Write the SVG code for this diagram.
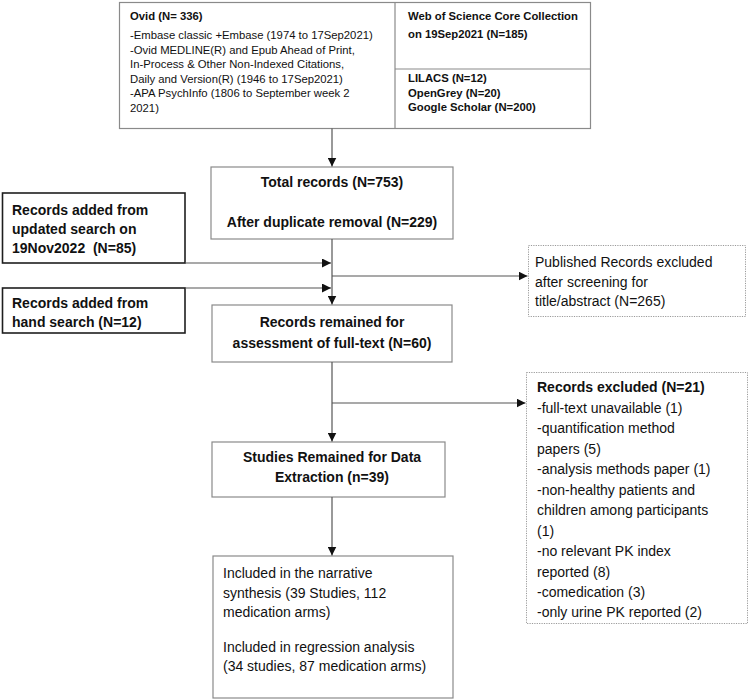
<svg xmlns="http://www.w3.org/2000/svg" width="750" height="700" viewBox="0 0 750 700">
<defs>
<style>
.box{fill:#fff;stroke:#8a8a8a;stroke-width:1.2}
.dark{fill:#fff;stroke:#1e1e1e;stroke-width:1.6}
.dot{fill:#fff;stroke:#9a9a9a;stroke-width:1;stroke-dasharray:1.2 1.2}
.conn{fill:none;stroke:#555;stroke-width:1.2}
text{font-family:"Liberation Sans",Arial,sans-serif;fill:#111}
.s{font-size:11.3px}
.sb{font-size:11.3px;font-weight:bold}
.r{font-size:14px}
.b{font-size:14px;font-weight:bold}
.c{text-anchor:middle}
.pre{white-space:pre}
</style>
<marker id="ah" viewBox="0 0 10 10" refX="10" refY="5" markerWidth="9" markerHeight="9" markerUnits="userSpaceOnUse" orient="auto">
<path d="M0,0 L10,5 L0,10 z" fill="#111"/>
</marker>
</defs>
<rect width="750" height="700" fill="#fff"/>

<g id="sources">
<rect class="box" x="119.5" y="2.5" width="471" height="126"/>
<line x1="395" y1="2.5" x2="395" y2="128.5" stroke="#8a8a8a" stroke-width="1.2"/>
<line x1="395" y1="69" x2="590.5" y2="69" stroke="#8a8a8a" stroke-width="1.2"/>
<text class="sb" x="130" y="20">Ovid (N= 336)</text>
<text class="s" x="130" y="39">-Embase classic +Embase (1974 to 17Sep2021)</text>
<text class="s" x="130" y="54">-Ovid MEDLINE(R) and Epub Ahead of Print,</text>
<text class="s" x="130" y="68">In-Process &amp; Other Non-Indexed Citations,</text>
<text class="s" x="130" y="83">Daily and Version(R) (1946 to 17Sep2021)</text>
<text class="s" x="130" y="97">-APA PsychInfo (1806 to September week 2</text>
<text class="s" x="130" y="112">2021)</text>
<text class="sb" x="408" y="20">Web of Science Core Collection</text>
<text class="sb" x="408" y="38">on 19Sep2021 (N=185)</text>
<text class="sb" x="408" y="82">LILACS (N=12)</text>
<text class="sb" x="408" y="97">OpenGrey (N=20)</text>
<text class="sb" x="408" y="111">Google Scholar (N=200)</text>
</g>

<g id="total">
<rect class="box" x="211" y="167" width="242" height="72"/>
<text class="b c" x="332" y="187">Total records (N=753)</text>
<text class="b c" x="332" y="227">After duplicate removal (N=229)</text>
</g>

<g id="updated">
<rect class="dark" x="2.5" y="193" width="182.5" height="70"/>
<text class="b" x="12" y="215">Records added from</text>
<text class="b" x="12" y="234">updated search on</text>
<text class="b pre" x="12" y="253" xml:space="preserve">19Nov2022  (N=85)</text>
</g>

<g id="hand">
<rect class="dark" x="2.5" y="288" width="182.5" height="45"/>
<text class="b" x="12" y="308">Records added from</text>
<text class="b" x="12" y="327">hand search (N=12)</text>
</g>

<g id="excluded1">
<rect class="dot" x="528.5" y="245.5" width="217" height="71"/>
<text class="r" x="535" y="267">Published Records excluded</text>
<text class="r" x="535" y="287">after screening for</text>
<text class="r" x="535" y="306">title/abstract (N=265)</text>
</g>

<g id="fulltext">
<rect class="box" x="212" y="305" width="240" height="57"/>
<text class="b c" x="332" y="327">Records remained for</text>
<text class="b c" x="332" y="348">assessment of full-text (N=60)</text>
</g>

<g id="excluded2">
<rect class="dot" x="526.5" y="372.5" width="221" height="251"/>
<text class="b" x="537" y="392">Records excluded (N=21)</text>
<text class="r" x="537" y="412.5">-full-text unavailable (1)</text>
<text class="r" x="537" y="433">-quantification method</text>
<text class="r" x="537" y="453.5">papers (5)</text>
<text class="r" x="537" y="474">-analysis methods paper (1)</text>
<text class="r" x="537" y="494.5">-non-healthy patients and</text>
<text class="r" x="537" y="515">children among participants</text>
<text class="r" x="537" y="535.5">(1)</text>
<text class="r" x="537" y="556">-no relevant PK index</text>
<text class="r" x="537" y="576.5">reported (8)</text>
<text class="r" x="537" y="597">-comedication (3)</text>
<text class="r" x="537" y="617">-only urine PK reported (2)</text>
</g>

<g id="studies">
<rect class="box" x="212" y="442" width="233" height="55"/>
<text class="b c" x="332" y="462">Studies Remained for Data</text>
<text class="b c" x="332" y="482">Extraction (n=39)</text>
</g>

<g id="included">
<rect class="box" x="213" y="556" width="240" height="142"/>
<text class="r" x="223" y="578">Included in the narrative</text>
<text class="r" x="223" y="598">synthesis (39 Studies, 112</text>
<text class="r" x="223" y="617">medication arms)</text>
<text class="r" x="223" y="652">Included in regression analysis</text>
<text class="r" x="223" y="671">(34 studies, 87 medication arms)</text>
</g>

<g id="connectors">
<path class="conn" d="M332,128.5 V166.5" marker-end="url(#ah)"/>
<path class="conn" d="M332,239 V304.5" marker-end="url(#ah)"/>
<path class="conn" d="M185,263 H331" marker-end="url(#ah)"/>
<path class="conn" d="M185,288 H331" marker-end="url(#ah)"/>
<path class="conn" d="M332,276 H527.5" marker-end="url(#ah)"/>
<path class="conn" d="M332,362 V441.5" marker-end="url(#ah)"/>
<path class="conn" d="M332,403 H525.5" marker-end="url(#ah)"/>
<path class="conn" d="M332,497 V555.5" marker-end="url(#ah)"/>
</g>
</svg>
